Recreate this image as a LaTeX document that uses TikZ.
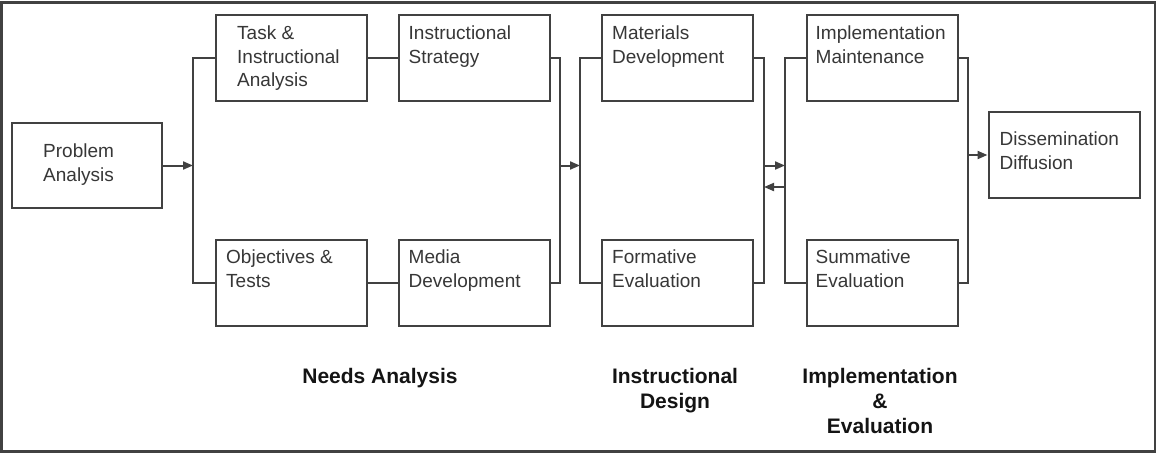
\documentclass[tikz,border=0pt]{standalone}
\usepackage{fontspec}
\setmainfont{Liberation Sans}
\usetikzlibrary{arrows.meta, positioning, calc}
\definecolor{mydark}{RGB}{65,65,65}
\definecolor{mytext}{RGB}{55,55,55}
\definecolor{myblack}{RGB}{20,20,20}
\tikzset{
  block/.style={rectangle, draw=mydark, fill=white,
    minimum width=151pt, minimum height=86pt, inner sep=0pt, line width=2pt},
  blocktext/.style={anchor=north west, inner sep=0pt, align=left,
    text=mytext, font=\fontsize{19}{23.5}\selectfont},
  phase/.style={anchor=north, inner sep=0pt, align=center,
    text=myblack, font=\fontsize{21}{25}\selectfont\bfseries},
  arrow/.style={-{Triangle[length=10pt, width=8pt]}, line width=2pt, color=mydark},
  line/.style={line width=2pt, color=mydark},
  frame/.style={draw=mydark, line width=2.2pt}
}

\begin{document}
\begin{tikzpicture}[x=1pt, y=-1pt]
  \useasboundingbox (0,0) rectangle (1164,456);
  \draw[frame] (1.5,2.5) rectangle (1155,451.5);

  % boxes
  \node[block, minimum width=150pt, minimum height=85pt] (prob) at (87,165.5) {};
  \node[block] (task) at (291.5,58) {};
  \node[block] (obj) at (291.5,283) {};
  \node[block] (strat) at (474,58) {};
  \node[block] (media) at (474,283) {};
  \node[block] (mat) at (677.5,58) {};
  \node[block] (form) at (677.5,283) {};
  \node[block] (impl) at (882,58) {};
  \node[block] (summ) at (882,283) {};
  \node[block] (diss) at (1064,155) {};

  % box texts
  \node[blocktext] (prob-t) at ($(prob.north west)+(32,22)$) {Problem\\Analysis};
  \node[blocktext] (task-t) at ($(task.north west)+(22,12)$) {Task \&\\Instructional\\Analysis};
  \node[blocktext] (obj-t) at ($(obj.north west)+(11,11)$) {Objectives \&\\Tests};
  \node[blocktext] (strat-t) at ($(strat.north west)+(11,12)$) {Instructional\\Strategy};
  \node[blocktext] (media-t) at ($(media.north west)+(11,11)$) {Media\\Development};
  \node[blocktext] (mat-t) at ($(mat.north west)+(11,12)$) {Materials\\Development};
  \node[blocktext] (form-t) at ($(form.north west)+(11,11)$) {Formative\\Evaluation};
  \node[blocktext] (impl-t) at ($(impl.north west)+(10,12)$) {Implementation\\Maintenance};
  \node[blocktext] (summ-t) at ($(summ.north west)+(10,11)$) {Summative\\Evaluation};
  \node[blocktext] (diss-t) at ($(diss.north west)+(12,21)$) {Dissemination\\Diffusion};

  % buses
  \coordinate (nbusl) at (193,165.5);
  \coordinate (nbusr) at (560,165.5);
  \coordinate (ibusl) at (580,165.5);
  \coordinate (ibusr) at (764,165.5);
  \coordinate (ebusl) at (785,165.5);
  \coordinate (ibusr2) at (764,187);
  \coordinate (ebusl2) at (785,187);
  \coordinate (ebusr) at (968,155);

  \draw[line] (task.west) -| (nbusl) |- (obj.west);
  \draw[line] (task) -- (strat);
  \draw[line] (obj) -- (media);
  \draw[line] (strat.east) -| (nbusr) |- (media.east);
  \draw[line] (mat.west) -| (ibusl) |- (form.west);
  \draw[line] (mat.east) -| (ibusr) |- (form.east);
  \draw[line] (impl.west) -| (ebusl) |- (summ.west);
  \draw[line] (impl.east) -| (ebusr) |- (summ.east);

  \draw[arrow] (prob.east) -- (nbusl);
  \draw[arrow] (nbusr) -- (ibusl);
  \draw[arrow] (ibusr) -- (ebusl);
  \draw[arrow] (ebusl2) -- (ibusr2);
  \draw[arrow] (ebusr) -- (diss.west);

  % phase labels
  \node[phase] (needs) at (380,368) {Needs Analysis};
  \node[phase] (design) at (675,368) {Instructional\\Design};
  \node[phase] (impleval) at (880,368) {Implementation\\\&\\Evaluation};
\end{tikzpicture}
\end{document}
